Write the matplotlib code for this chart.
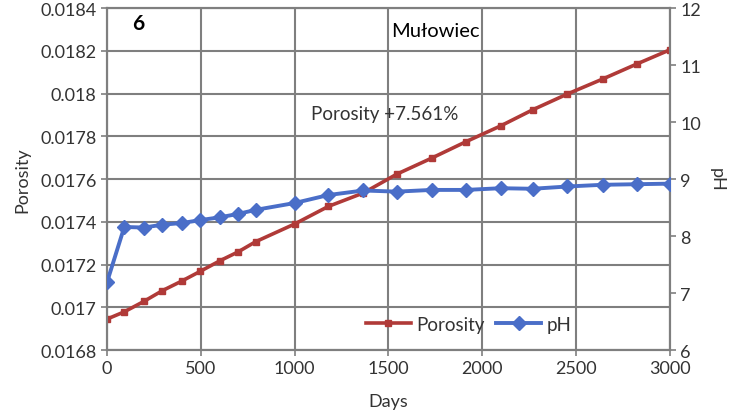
import matplotlib
matplotlib.use('Agg')
import matplotlib.pyplot as plt

# Dane: porowatość i pH w funkcji czasu (mułowiec)
dni = [0, 92, 197, 295, 401, 496, 602, 700, 792, 1000, 1179, 1366,
       1544, 1730, 1913, 2098, 2268, 2453, 2641, 2822, 3000]
porowatosc = [0.016945, 0.016979, 0.017028, 0.017078, 0.017124, 0.017168,
              0.017218, 0.017260, 0.017307, 0.017390, 0.017472, 0.017535,
              0.017623, 0.017698, 0.017775, 0.017849, 0.017924, 0.017998,
              0.018068, 0.018138, 0.018205]
ph = [7.19, 8.16, 8.15, 8.20, 8.23, 8.28, 8.33, 8.39, 8.46, 8.58, 8.72,
      8.80, 8.78, 8.81, 8.81, 8.84, 8.83, 8.87, 8.90, 8.91, 8.92]

lewe_ticki = [0.0168, 0.017, 0.0172, 0.0174, 0.0176, 0.0178, 0.018, 0.0182, 0.0184]
lewe_etykiety = ['0.0168', '0.017', '0.0172', '0.0174', '0.0176',
                 '0.0178', '0.018', '0.0182', '0.0184']
prawe_ticki = [6, 7, 8, 9, 10, 11, 12]
dni_ticki = [0, 500, 1000, 1500, 2000, 2500, 3000]

CZERWONY = '#B03A38'
NIEBIESKI = '#4A6EC8'
SZARY = '#7F7F7F'
TEKST = '#333333'

plt.rcParams['font.family'] = ['Lato', 'DejaVu Sans']

fig = plt.figure(figsize=(7.29, 4.14), dpi=100)
ax = fig.add_axes([0.1468, 0.152, 0.7722, 0.826])
ax2 = ax.twinx()

l1, = ax.plot(dni, porowatosc, color=CZERWONY, lw=2.6, marker='s',
              markersize=4.5, label='Porosity', zorder=3)
l2, = ax2.plot(dni, ph, color=NIEBIESKI, lw=2.8, marker='D',
               markersize=7, label='pH', zorder=3)

ax.set_xlim(0, 3000)
ax.set_ylim(0.0168, 0.0184)
ax2.set_ylim(6, 12)
ax.set_xticks(dni_ticki)
ax.set_yticks(lewe_ticki)
ax.set_yticklabels(lewe_etykiety)
ax2.set_yticks(prawe_ticki)

ax.grid(True, color=SZARY, lw=1.5)
ax.set_axisbelow(True)
for a in (ax, ax2):
    for s in a.spines.values():
        s.set_color(SZARY)
        s.set_linewidth(1.5)
    a.tick_params(colors=SZARY, labelcolor=TEKST, labelsize=13,
                  length=4, width=1.2)

ax.set_xlabel('Days', fontsize=13, color=TEKST, labelpad=12)
ax.set_ylabel('Porosity', fontsize=13, color=TEKST, labelpad=7)
ax2.set_ylabel('pH', fontsize=13, color=TEKST, rotation=270, labelpad=17)

ax.text(0.045, 0.955, '6', transform=ax.transAxes, fontsize=15,
        fontweight='bold', color='black', va='center')
ax.text(0.505, 0.935, 'Mułowiec', transform=ax.transAxes, fontsize=14.5,
        color='black', va='center')
ax.text(0.363, 0.692, 'Porosity +7.561%', transform=ax.transAxes,
        fontsize=13.5, color=TEKST, va='center')

leg = ax2.legend([l1, l2], ['Porosity', 'pH'], loc='center left',
                 bbox_to_anchor=(0.43, 0.075), ncol=2, frameon=False,
                 fontsize=13.5, handlelength=2.4, handletextpad=0.3,
                 columnspacing=0.6)
for t in leg.get_texts():
    t.set_color(TEKST)

fig.savefig('out.png', dpi=100)
